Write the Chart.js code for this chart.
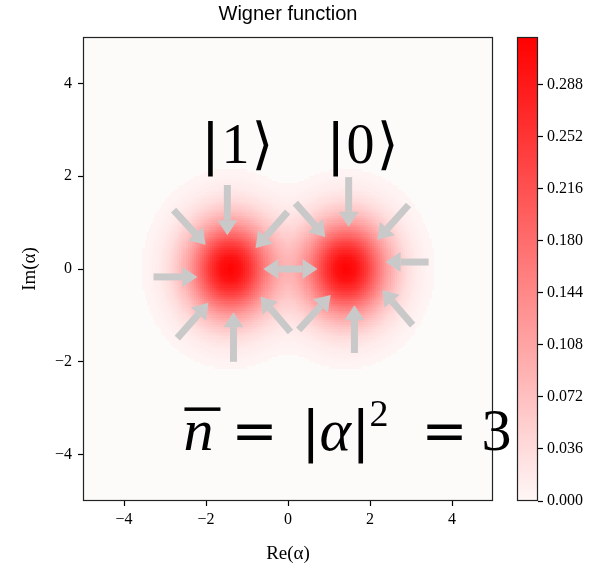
<!DOCTYPE html>
<html><head><meta charset="utf-8">
<script src="https://cdn.jsdelivr.net/npm/chart.js@4.4.0/dist/chart.umd.min.js"></script>
<style>
html,body{margin:0;padding:0;background:#fff;}
#wrap{position:relative;width:592px;height:572px;}
canvas{position:absolute;left:0;top:0;}
</style></head><body>
<div id="wrap"><canvas id="main" width="592" height="572"></canvas><canvas id="cbar" width="592" height="572"></canvas></div>
<script>
// ---- data ----
const axisTicks = [-4, -2, 0, 2, 4];
const colorbarTicks = [0, 0.036, 0.072, 0.108, 0.144, 0.180, 0.216, 0.252, 0.288];
const colorbarMax = 0.321;
const blobRe = [-1.41, 1.41];
const blobIm = [0, 0];
const profileRadius = [0, 0.25, 0.5, 0.75, 1, 1.25, 1.5, 1.75, 2, 2.25, 2.5, 2.75];
const profileValue = [0.318, 0.298, 0.248, 0.181, 0.117, 0.067, 0.033, 0.015, 0.0058, 0.002, 0.0006, 0];
const lowestLevel = 0.0033;
const ketDigits = ['1', '0'];
const ketRe = [-1.28, 1.77];
const ketIm = [2.28, 2.28];
const arrowFromRe = [-1.48, -2.79, -0.01, -3.28, -2.70, -1.33, 0.06, -0.60, 1.48, 0.18, 2.94, 3.43, 0.26, 1.62, 3.04];
const arrowFromIm = [1.81, 1.27, 1.23, -0.17, -1.49, -2.00, -1.36, 0, 1.98, 1.42, 1.38, 0.15, -1.31, -1.81, -1.21];
const arrowToRe = [-1.48, -2.01, -0.79, -2.21, -1.94, -1.33, -0.67, 0.72, 1.48, 0.91, 2.18, 2.38, 1.04, 1.62, 2.30];
const arrowToIm = [0.73, 0.52, 0.45, -0.17, -0.73, -0.93, -0.60, 0, 0.91, 0.69, 0.63, 0.15, -0.56, -0.78, -0.45];
const arrowBoth = [false, false, false, false, false, false, false, true, false, false, false, false, false, false, false];
const nbarRe = -2.55, nbarIm = -3.91;

// ---- helpers ----
function profileAt(r) {
  const n = profileRadius.length;
  if (r >= profileRadius[n - 1]) return 0;
  for (let i = 0; i < n - 1; i++) {
    if (r <= profileRadius[i + 1]) {
      const t = (r - profileRadius[i]) / (profileRadius[i + 1] - profileRadius[i]);
      return profileValue[i] + t * (profileValue[i + 1] - profileValue[i]);
    }
  }
  return 0;
}
function wignerAt(re, im) {
  let v = 0;
  for (let k = 0; k < blobRe.length; k++) {
    v += profileAt(Math.hypot(re - blobRe[k], im - blobIm[k]));
  }
  return v;
}
function cmap(v) {
  const t = Math.max(0, Math.min(1, v / colorbarMax));
  const g = Math.round(247 * (1 - t));
  return 'rgb(255,' + g + ',' + g + ')';
}
const bgColor = 'rgb(253,250,250)';
const tickFont = {family: "'Liberation Serif', serif", size: 16};
const minus = v => (v < 0 ? '\u2212' + Math.abs(v) : String(v));

const heatPlugin = {
  id: 'heat',
  beforeDatasetsDraw(chart) {
    const {ctx} = chart, xs = chart.scales.x, ys = chart.scales.y;
    const step = 0.05, n = Math.round(10 / step);
    ctx.save();
    for (let i = 0; i < n; i++) {
      const x0 = -5 + i * step;
      const px0 = Math.round(xs.getPixelForValue(x0)), px1 = Math.round(xs.getPixelForValue(x0 + step));
      for (let j = 0; j < n; j++) {
        const y0 = -5 + j * step;
        const py0 = Math.round(ys.getPixelForValue(y0 + step)), py1 = Math.round(ys.getPixelForValue(y0));
        const v = wignerAt(x0 + step / 2, y0 + step / 2);
        ctx.fillStyle = v < lowestLevel ? bgColor : cmap(v);
        ctx.fillRect(px0, py0, px1 - px0, py1 - py0);
      }
    }
    ctx.restore();
  }
};

function drawArrow(ctx, x1, y1, x2, y2, both) {
  const dx = x2 - x1, dy = y2 - y1, L = Math.hypot(dx, dy);
  const ux = dx / L, uy = dy / L, nx = -uy, ny = ux;
  const hl = 15, hw = 10, sw = 3.5;
  const sx = both ? x1 + ux * hl : x1, sy = both ? y1 + uy * hl : y1;
  const ex = x2 - ux * hl, ey = y2 - uy * hl;
  ctx.beginPath();
  ctx.moveTo(sx + nx * sw, sy + ny * sw);
  ctx.lineTo(ex + nx * sw, ey + ny * sw);
  ctx.lineTo(ex - nx * sw, ey - ny * sw);
  ctx.lineTo(sx - nx * sw, sy - ny * sw);
  ctx.closePath(); ctx.fill();
  ctx.beginPath();
  ctx.moveTo(x2, y2); ctx.lineTo(ex + nx * hw, ey + ny * hw); ctx.lineTo(ex - nx * hw, ey - ny * hw);
  ctx.closePath(); ctx.fill();
  if (both) {
    ctx.beginPath();
    ctx.moveTo(x1, y1); ctx.lineTo(sx + nx * hw, sy + ny * hw); ctx.lineTo(sx - nx * hw, sy - ny * hw);
    ctx.closePath(); ctx.fill();
  }
}

const annotPlugin = {
  id: 'annot',
  afterDatasetsDraw(chart) {
    const {ctx} = chart, xs = chart.scales.x, ys = chart.scales.y;
    ctx.save();
    ctx.fillStyle = 'rgb(201,201,201)';
    for (let i = 0; i < arrowFromRe.length; i++) {
      drawArrow(ctx, xs.getPixelForValue(arrowFromRe[i]), ys.getPixelForValue(arrowFromIm[i]),
        xs.getPixelForValue(arrowToRe[i]), ys.getPixelForValue(arrowToIm[i]), arrowBoth[i]);
    }
    // kets
    ctx.fillStyle = '#000';
    ctx.textBaseline = 'alphabetic';
    ctx.textAlign = 'center';
    for (let k = 0; k < ketDigits.length; k++) {
      const cx = xs.getPixelForValue(ketRe[k]), by = ys.getPixelForValue(ketIm[k]);
      ctx.font = "56px 'DejaVu Sans'";
      ctx.fillText('|', cx - 25, by);
      ctx.font = "56px 'Liberation Serif'";
      ctx.fillText(ketDigits[k], cx, by);
      ctx.font = "56px 'DejaVu Sans'";
      ctx.fillText('\u27E9', cx + 27, by);
    }
    ctx.restore();
  },
  afterDraw(chart) {
    const {ctx, chartArea: ca} = chart, xs = chart.scales.x, ys = chart.scales.y;
    ctx.save();
    ctx.strokeStyle = '#222'; ctx.lineWidth = 1.2;
    ctx.strokeRect(ca.left + 0.5, ca.top + 0.5, ca.right - ca.left - 1, ca.bottom - ca.top - 1);
    // n-bar = |alpha|^2 = 3
    const x0 = xs.getPixelForValue(nbarRe), by = ys.getPixelForValue(nbarIm);
    ctx.fillStyle = '#000'; ctx.textAlign = 'left'; ctx.textBaseline = 'alphabetic';
    ctx.font = "italic 60px 'Liberation Serif'";
    ctx.fillText('n', x0, by);
    ctx.fillRect(x0 + 1, by - 43, 36, 3.5);
    ctx.font = "55px 'DejaVu Sans'";
    ctx.fillText('=', x0 + 48, by);
    ctx.fillText('|', x0 + 118, by);
    ctx.font = "italic 60px 'Liberation Serif'";
    ctx.fillText('\u03B1', x0 + 136, by);
    ctx.font = "55px 'DejaVu Sans'";
    ctx.fillText('|', x0 + 168, by);
    ctx.font = "38px 'Liberation Serif'";
    ctx.fillText('2', x0 + 186, by - 24);
    ctx.font = "55px 'DejaVu Sans'";
    ctx.fillText('=', x0 + 238, by);
    ctx.font = "60px 'Liberation Serif'";
    ctx.fillText('3', x0 + 298, by);
    ctx.restore();
  }
};

new Chart(document.getElementById('main'), {
  type: 'scatter',
  data: {datasets: [{data: [], pointRadius: 0}]},
  options: {
    responsive: false, animation: false,
    layout: {padding: {left: 0, right: 99, top: 0, bottom: 0}},
    plugins: {
      legend: {display: false}, tooltip: {enabled: false},
      title: {display: true, text: 'Wigner function', fullSize: false, color: '#000',
        font: {family: "'Liberation Sans', sans-serif", size: 20, weight: 'normal'}, padding: {top: 2, bottom: 11}}
    },
    scales: {
      x: {
        type: 'linear', min: -5, max: 5,
        afterBuildTicks: s => { s.ticks = axisTicks.map(v => ({value: v})); },
        afterFit: s => { s.height = 71; },
        ticks: {font: tickFont, color: '#000', padding: 4, maxRotation: 0, callback: v => minus(v)},
        grid: {drawOnChartArea: false, drawTicks: true, tickLength: 5, tickColor: '#000', tickWidth: 1.2},
        border: {display: false},
        title: {display: true, text: 'Re(\u03B1)', color: '#000', font: {family: "'Liberation Serif', serif", size: 19}, padding: {top: 0, bottom: 7}}
      },
      y: {
        type: 'linear', min: -5, max: 5,
        afterBuildTicks: s => { s.ticks = axisTicks.map(v => ({value: v})); },
        afterFit: s => { s.width = 83; },
        ticks: {font: tickFont, color: '#000', padding: 6, callback: v => minus(v)},
        grid: {drawOnChartArea: false, drawTicks: true, tickLength: 5, tickColor: '#000', tickWidth: 1.2},
        border: {display: false},
        title: {display: true, text: 'Im(\u03B1)', color: '#000', font: {family: "'Liberation Serif', serif", size: 19}, padding: {top: 19, bottom: 0}}
      }
    }
  },
  plugins: [heatPlugin, annotPlugin]
});

const cbFrame = {
  id: 'cbFrame',
  afterDraw(chart) {
    const {ctx, chartArea: ca} = chart;
    ctx.save();
    ctx.strokeStyle = '#222'; ctx.lineWidth = 1.2;
    ctx.strokeRect(ca.left + 0.5, ca.top + 0.5, ca.right - ca.left - 1, ca.bottom - ca.top - 1);
    ctx.restore();
  }
};

new Chart(document.getElementById('cbar'), {
  type: 'bar',
  data: {labels: ['W'], datasets: [{
    data: [[0, colorbarMax]], borderWidth: 0, barPercentage: 1, categoryPercentage: 1,
    backgroundColor: c => {
      const ch = c.chart;
      if (!ch.chartArea) return cmap(colorbarMax);
      const ys = ch.scales.y;
      const g = ch.ctx.createLinearGradient(0, ys.getPixelForValue(0), 0, ys.getPixelForValue(colorbarMax));
      g.addColorStop(0, cmap(0)); g.addColorStop(1, cmap(colorbarMax));
      return g;
    }
  }]},
  options: {
    responsive: false, animation: false,
    layout: {padding: {left: 517, top: 37, right: 0, bottom: 71}},
    plugins: {legend: {display: false}, tooltip: {enabled: false}},
    scales: {
      x: {display: false},
      y: {
        position: 'right', min: 0, max: colorbarMax,
        afterBuildTicks: s => { s.ticks = colorbarTicks.map(v => ({value: v})); },
        afterFit: s => { s.width = 54; },
        ticks: {font: tickFont, color: '#000', padding: 4, callback: v => v.toFixed(3)},
        grid: {drawOnChartArea: false, drawTicks: true, tickLength: 5, tickColor: '#000', tickWidth: 1.2},
        border: {display: false}
      }
    }
  },
  plugins: [cbFrame]
});
</script>
</body></html>
